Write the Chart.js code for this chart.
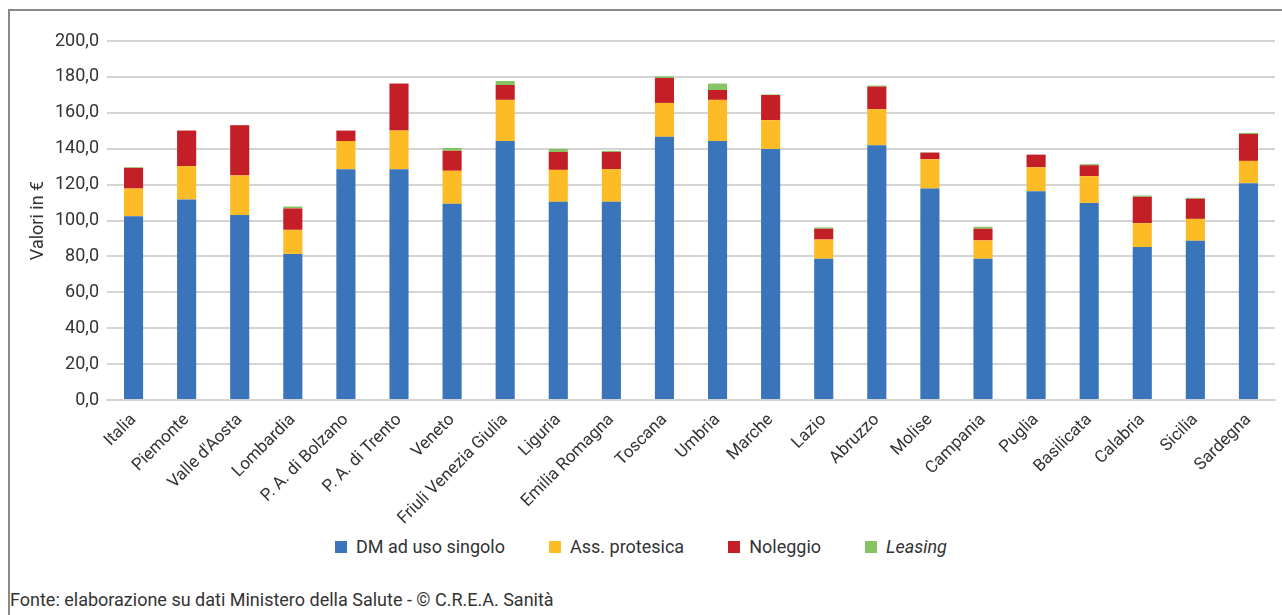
<!DOCTYPE html>
<html lang="it">
<head>
  <meta charset="UTF-8">
  <title>Spesa per dispositivi medici per regione</title>
  <script src="https://cdn.jsdelivr.net/npm/chart.js"></script>
  <style>
    body {
      margin: 0;
      background: #ffffff;
      font-family: Roboto, 'Liberation Sans', sans-serif;
      color: #333;
      width: 1282px;
      height: 615px;
      overflow: hidden;
      position: relative;
    }
    .cornice {
      position: absolute;
      left: 8px;
      top: 9px;
      width: 1300px;
      height: 640px;
      border-left: 2px solid #8a8a8a;
      border-top: 2px solid #8a8a8a;
    }
    .grafico {
      position: absolute;
      left: 0;
      top: 0;
      width: 1282px;
      height: 530px;
    }
    #legenda {
      position: absolute;
      top: 536px;
      left: 0;
      width: 1282px;
      display: flex;
      justify-content: center;
      gap: 44px;
      font-size: 18px;
      color: #333;
    }
    #legenda span.voce {
      display: flex;
      align-items: center;
    }
    #legenda span.box {
      width: 12px;
      height: 12px;
      margin-right: 9px;
      display: inline-block;
    }
    .fonte {
      position: absolute;
      left: 10px;
      top: 589px;
      font-size: 18px;
      color: #333;
    }
  </style>
</head>
<body>
  <div class="cornice"></div>
  <div class="grafico"><canvas id="barChart"></canvas></div>
  <div id="legenda"></div>
  <div class="fonte">Fonte: elaborazione su dati Ministero della Salute - © C.R.E.A. Sanità</div>

  <script>
    const regioni = ['Italia', 'Piemonte', "Valle d'Aosta", 'Lombardia', 'P. A. di Bolzano', 'P. A. di Trento',
      'Veneto', 'Friuli Venezia Giulia', 'Liguria', 'Emilia Romagna', 'Toscana', 'Umbria', 'Marche', 'Lazio',
      'Abruzzo', 'Molise', 'Campania', 'Puglia', 'Basilicata', 'Calabria', 'Sicilia', 'Sardegna'];

    const dmUsoSingolo = [102.4, 111.7, 103.0, 81.4, 128.6, 128.6, 109.3, 144.3, 110.4, 110.4, 146.6, 144.3, 139.9, 78.7, 141.9, 117.8, 78.7, 116.3, 109.8, 85.2, 88.7, 120.8];
    const assProtesica = [15.4, 18.6, 22.1, 13.4, 15.7, 21.5, 18.4, 22.9, 17.8, 18.2, 18.9, 22.9, 16.0, 10.7, 20.1, 16.3, 10.2, 13.4, 14.9, 13.3, 12.2, 12.4];
    const noleggio = [11.5, 19.8, 28.0, 11.9, 5.8, 26.2, 11.1, 8.3, 10.0, 9.6, 13.9, 5.5, 14.0, 6.0, 12.6, 3.7, 6.5, 7.0, 6.1, 14.7, 11.2, 15.0];
    const leasing = [0.4, 0.1, 0.0, 1.1, 0.0, 0.0, 1.6, 2.2, 1.7, 0.6, 0.9, 3.6, 0.3, 0.7, 0.6, 0.2, 1.1, 0.0, 0.6, 0.7, 0.5, 0.6];

    const serie = [
      { label: 'DM ad uso singolo', data: dmUsoSingolo, color: '#3a74ba', italic: false },
      { label: 'Ass. protesica', data: assProtesica, color: '#fdbc26', italic: false },
      { label: 'Noleggio', data: noleggio, color: '#c41f26', italic: false },
      { label: 'Leasing', data: leasing, color: '#86c463', italic: true }
    ];

    const font = "Roboto, 'Liberation Sans', sans-serif";

    new Chart(document.getElementById('barChart'), {
      type: 'bar',
      data: {
        labels: regioni,
        datasets: serie.map(s => ({
          label: s.label,
          data: s.data,
          backgroundColor: s.color,
          borderWidth: 0,
          barPercentage: 0.36,
          categoryPercentage: 1
        }))
      },
      options: {
        responsive: true,
        maintainAspectRatio: false,
        animation: false,
        layout: { padding: { top: 41, left: 28, right: 7, bottom: 0 } },
        plugins: {
          legend: { display: false },
          tooltip: { enabled: false }
        },
        scales: {
          x: {
            stacked: true,
            grid: { display: false },
            border: { color: '#d4d4d4', width: 2 },
            ticks: {
              minRotation: 45,
              maxRotation: 45,
              autoSkip: false,
              padding: 2,
              color: '#333',
              font: { family: font, size: 17 }
            },
            afterFit: scale => { scale.height = 130; }
          },
          y: {
            stacked: true,
            min: 0,
            max: 200,
            border: { display: false },
            grid: { color: '#d4d4d4', lineWidth: 2, drawTicks: false },
            ticks: {
              stepSize: 20,
              padding: 8,
              color: '#333',
              font: { family: font, size: 18 },
              callback: v => v.toFixed(1).replace('.', ',')
            },
            title: {
              display: true,
              text: 'Valori in €',
              color: '#333',
              padding: { top: 0, bottom: 0 },
              font: { family: font, size: 18 }
            },
            afterFit: scale => { scale.width = 79; }
          }
        }
      }
    });

    // legenda in HTML per avere "Leasing" in corsivo
    const legenda = document.getElementById('legenda');
    serie.forEach(s => {
      const voce = document.createElement('span');
      voce.className = 'voce';
      const box = document.createElement('span');
      box.className = 'box';
      box.style.background = s.color;
      const testo = document.createElement('span');
      testo.textContent = s.label;
      if (s.italic) testo.style.fontStyle = 'italic';
      voce.appendChild(box);
      voce.appendChild(testo);
      legenda.appendChild(voce);
    });
  </script>
</body>
</html>
